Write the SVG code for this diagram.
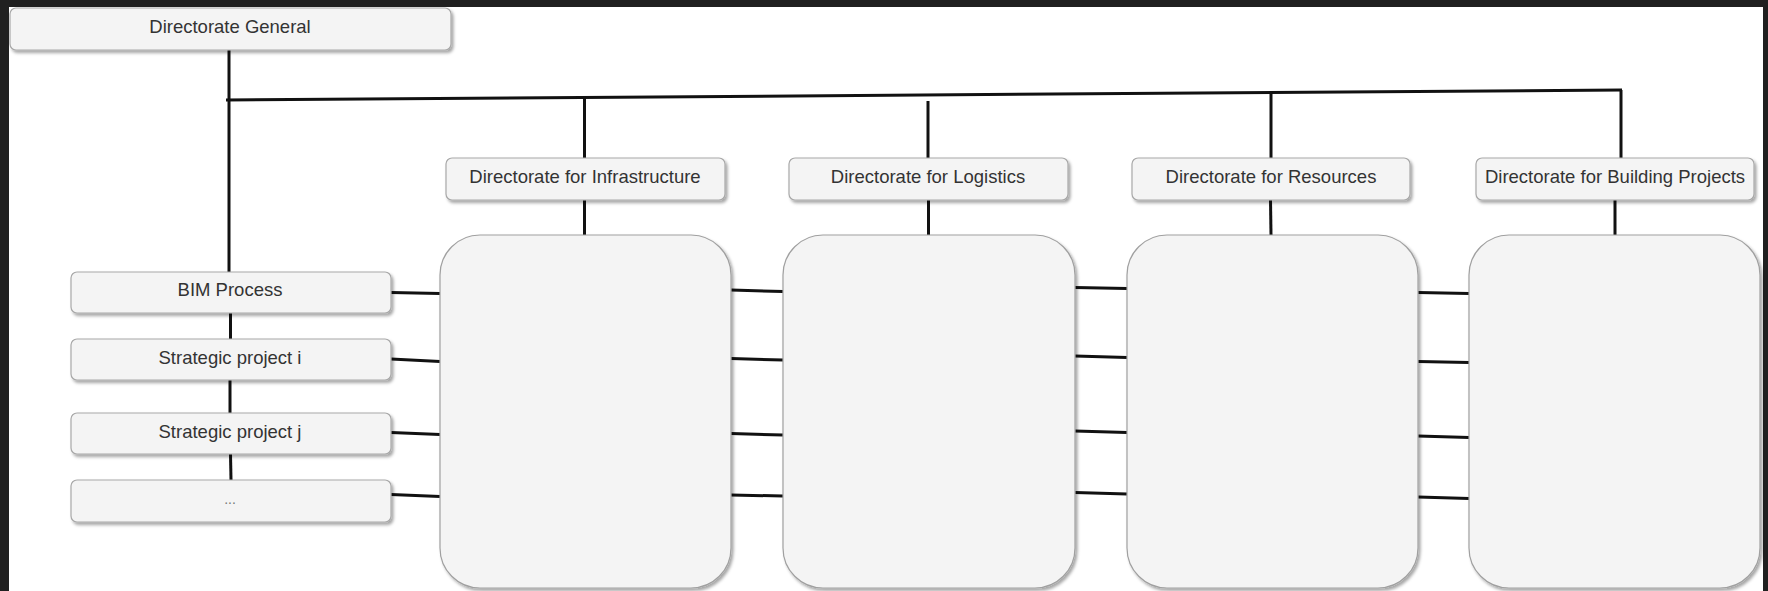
<svg xmlns="http://www.w3.org/2000/svg" width="1768" height="591" viewBox="0 0 1768 591">
<defs>
<filter id="sh" x="-10%" y="-10%" width="130%" height="130%">
<feDropShadow dx="2" dy="2.5" stdDeviation="1.5" flood-color="#000" flood-opacity="0.35"/>
</filter>
<style>
.box{fill:#f4f4f4;stroke:#a8a8a8;stroke-width:1.2;filter:url(#sh)}
.big{fill:#f4f4f4;stroke:#a0a0a0;stroke-width:1.2;filter:url(#sh)}
.lbl{font-family:"Liberation Sans",Arial,sans-serif;font-size:18.5px;fill:#333;text-anchor:middle}
.dots{font-family:"Liberation Sans",Arial,sans-serif;font-size:14px;fill:#777;text-anchor:middle}
.ln{stroke:#111;stroke-width:3;fill:none}
</style>
</defs>
<rect x="0" y="0" width="1768" height="591" fill="#202020"/>
<rect x="9" y="7" width="1754" height="584" fill="#ffffff"/>

<g id="connectors">
<line class="ln" x1="229" y1="50" x2="229" y2="272"/>
<line class="ln" x1="226" y1="100" x2="1622" y2="90"/>
<line class="ln" x1="584.5" y1="97" x2="584.5" y2="158"/>
<line class="ln" x1="928" y1="101" x2="928" y2="158"/>
<line class="ln" x1="1271" y1="91" x2="1271" y2="158"/>
<line class="ln" x1="1621" y1="90" x2="1621" y2="158"/>
<line class="ln" x1="584.5" y1="200" x2="584.5" y2="235"/>
<line class="ln" x1="928.5" y1="200" x2="928.5" y2="235"/>
<line class="ln" x1="1270.5" y1="200" x2="1271" y2="235"/>
<line class="ln" x1="1615" y1="200" x2="1615" y2="235"/>
<line class="ln" x1="230.5" y1="313" x2="230.5" y2="339"/>
<line class="ln" x1="230" y1="380" x2="230" y2="413"/>
<line class="ln" x1="230.5" y1="454" x2="231" y2="480"/>
<line class="ln" x1="391" y1="292.5" x2="440" y2="293.5"/>
<line class="ln" x1="391" y1="359" x2="440" y2="361.5"/>
<line class="ln" x1="391" y1="432.5" x2="440" y2="434.5"/>
<line class="ln" x1="391" y1="494.5" x2="440" y2="496.5"/>
<line class="ln" x1="731" y1="290" x2="783" y2="291.5"/>
<line class="ln" x1="731" y1="358.5" x2="783" y2="360"/>
<line class="ln" x1="731" y1="433.5" x2="783" y2="435"/>
<line class="ln" x1="731" y1="495" x2="783" y2="496"/>
<line class="ln" x1="1075" y1="287.5" x2="1127" y2="288.5"/>
<line class="ln" x1="1075" y1="356" x2="1127" y2="357.5"/>
<line class="ln" x1="1075" y1="431" x2="1127" y2="432.5"/>
<line class="ln" x1="1075" y1="492.5" x2="1127" y2="494"/>
<line class="ln" x1="1418" y1="292.5" x2="1469" y2="293.5"/>
<line class="ln" x1="1418" y1="361.5" x2="1469" y2="362.5"/>
<line class="ln" x1="1418" y1="436" x2="1469" y2="437.5"/>
<line class="ln" x1="1418" y1="497" x2="1469" y2="498.5"/>
</g>

<g id="dg">
<rect class="box" x="10" y="8" width="441" height="42" rx="6"/>
<text class="lbl" x="230" y="32.5">Directorate General</text>
</g>

<g id="dir-infra">
<rect class="box" x="446" y="158" width="279" height="42" rx="6"/>
<text class="lbl" x="585" y="183">Directorate for Infrastructure</text>
</g>
<g id="dir-log">
<rect class="box" x="789" y="158" width="279" height="42" rx="6"/>
<text class="lbl" x="928" y="183">Directorate for Logistics</text>
</g>
<g id="dir-res">
<rect class="box" x="1132" y="158" width="278" height="42" rx="6"/>
<text class="lbl" x="1271" y="183">Directorate for Resources</text>
</g>
<g id="dir-build">
<rect class="box" x="1476" y="158" width="278" height="42" rx="6"/>
<text class="lbl" x="1615" y="183">Directorate for Building Projects</text>
</g>

<g id="bim">
<rect class="box" x="71" y="272" width="320" height="41" rx="6"/>
<text class="lbl" x="230" y="296">BIM Process</text>
</g>
<g id="sp-i">
<rect class="box" x="71" y="339" width="320" height="41" rx="6"/>
<text class="lbl" x="230" y="364">Strategic project i</text>
</g>
<g id="sp-j">
<rect class="box" x="71" y="413" width="320" height="41" rx="6"/>
<text class="lbl" x="230" y="438">Strategic project j</text>
</g>
<g id="more">
<rect class="box" x="71" y="480" width="320" height="42" rx="6"/>
<text class="dots" x="230" y="504">...</text>
</g>

<g id="area-infra">
<rect class="big" x="440" y="235" width="291" height="353" rx="40"/>
</g>
<g id="area-log">
<rect class="big" x="783" y="235" width="292" height="353" rx="40"/>
</g>
<g id="area-res">
<rect class="big" x="1127" y="235" width="291" height="353" rx="40"/>
</g>
<g id="area-build">
<rect class="big" x="1469" y="235" width="291" height="353" rx="40"/>
</g>
</svg>
